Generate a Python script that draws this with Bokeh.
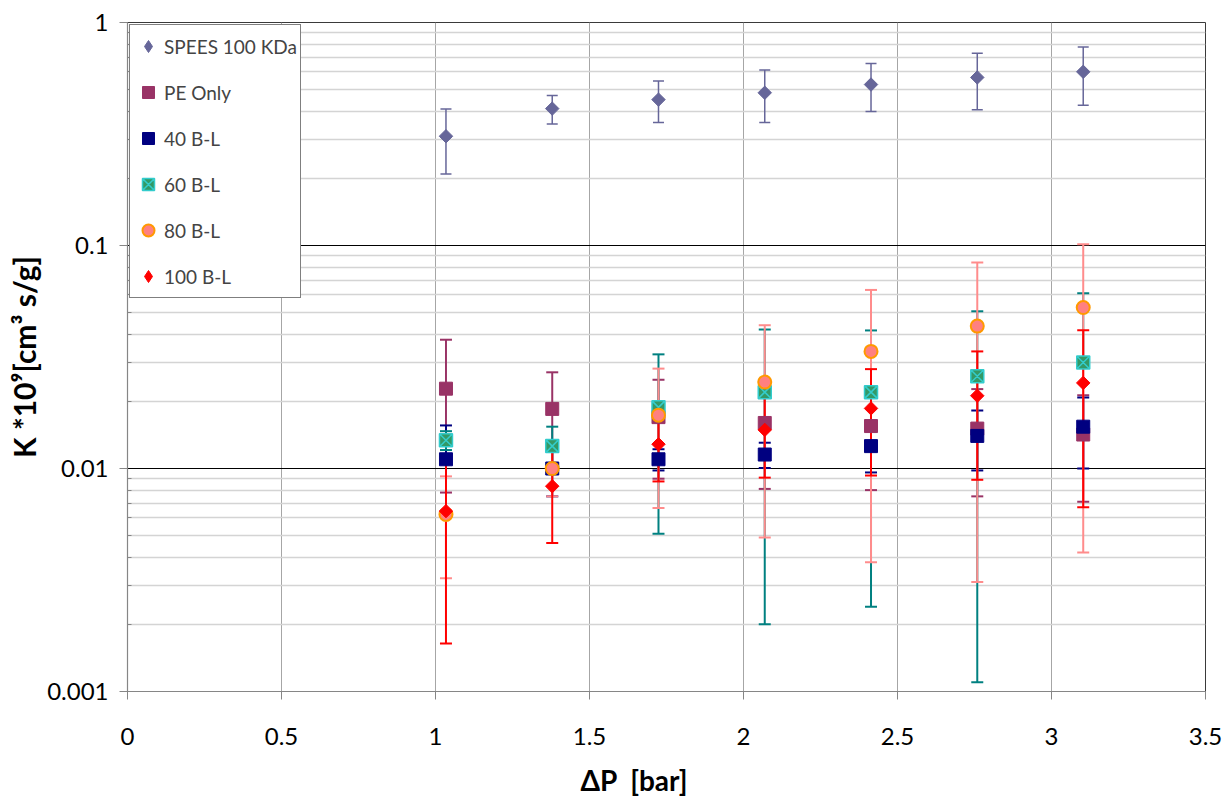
import numpy as np
from bokeh.plotting import figure
from bokeh.models import (ColumnDataSource, Whisker, TeeHead, FixedTicker, Range1d,
                          CustomJSTickFormatter, Legend, LegendItem, Title)
from bokeh.embed import file_html
from bokeh.resources import INLINE

# ---------------- data ----------------
dp = [1.034, 1.379, 1.724, 2.069, 2.414, 2.759, 3.103]

series_names = ["SPEES 100 KDa", "PE Only", "40 B-L", "60 B-L", "80 B-L", "100 B-L"]

spees_k = [0.309, 0.411, 0.451, 0.484, 0.527, 0.567, 0.601]
spees_err = [0.100, 0.060, 0.095, 0.128, 0.128, 0.161, 0.175]

pe_k = [0.0228, 0.0185, 0.0170, 0.0160, 0.0155, 0.0151, 0.0142]
pe_err = [0.0150, 0.0085, 0.0080, 0.0079, 0.0075, 0.0076, 0.0071]

bl40_k = [0.0110, 0.0100, 0.0110, 0.01155, 0.0126, 0.0140, 0.0154]
bl40_err = [0.0046, 0.0025, 0.0012, 0.0015, 0.0030, 0.0042, 0.0054]

bl60_k = [0.0134, 0.0126, 0.0188, 0.0220, 0.0220, 0.0259, 0.0299]
bl60_err = [0.0013, 0.0028, 0.0137, 0.0200, 0.0196, 0.0248, 0.0311]

bl80_k = [0.00622, 0.0100, 0.01735, 0.0244, 0.0335, 0.0435, 0.0527]
bl80_err = [0.0030, 0.0025, 0.0107, 0.0195, 0.0297, 0.0404, 0.0485]

bl100_k = [0.00644, 0.00833, 0.01285, 0.0149, 0.0186, 0.0212, 0.0242]
bl100_err = [0.0048, 0.0037, 0.0041, 0.0058, 0.0093, 0.0123, 0.0175]

x_ticks = [0, 0.5, 1, 1.5, 2, 2.5, 3, 3.5]
y_ticks = [0.001, 0.01, 0.1, 1]
y_minor = [k * 10.0 ** d for d in (-3, -2, -1) for k in range(2, 10)]

x_title = "\u0394P\u00a0\u00a0[bar]"
y_title = "K *10\u2079[cm\u00b3 s/g]"

# ---------------- styles ----------------
FONT = "Lato"
ROT = np.pi / 4
styles = [
    dict(marker="square", size=9.5, fill="#666699", line="#666699", lw=1, angle=ROT,
         legend_marker="diamond", ecolor="#666699", ew=1.5, cap=11),
    dict(marker="square", size=13, fill="#993366", line="#993366", lw=1, angle=0.0,
         legend_marker=None, ecolor="#993366", ew=2, cap=12),
    dict(marker="square", size=13, fill="#000080", line="#000080", lw=1, angle=0.0,
         legend_marker=None, ecolor="#000080", ew=2, cap=12),
    dict(marker="square_x", size=13, fill="#339966", line="#33CCCC", lw=1.5, angle=0.0,
         legend_marker=None, ecolor="#008080", ew=2, cap=12),
    dict(marker="circle", size=13, fill="#FF8080", line="#FF9900", lw=2, angle=0.0,
         legend_marker=None, ecolor="#FF8C8C", ew=2, cap=12),
    dict(marker="square", size=9.5, fill="#FF0000", line="#FF0000", lw=1, angle=ROT,
         legend_marker="diamond", ecolor="#FF0000", ew=2, cap=12),
]
values = [spees_k, pe_k, bl40_k, bl60_k, bl80_k, bl100_k]
errors = [spees_err, pe_err, bl40_err, bl60_err, bl80_err, bl100_err]

p = figure(width=1229, height=809, output_backend="svg", toolbar_location=None,
           y_axis_type="log", x_range=Range1d(0, 3.5), y_range=Range1d(0.001, 1),
           min_border_left=127, min_border_right=24, min_border_top=22, min_border_bottom=118)
p.background_fill_color = "white"
p.border_fill_color = "white"
p.outline_line_color = "#3a3a3a"
p.outline_line_width = 1

# axes
p.xaxis.ticker = FixedTicker(ticks=x_ticks)
p.yaxis.ticker = FixedTicker(ticks=y_ticks, minor_ticks=y_minor)
p.xaxis.formatter = CustomJSTickFormatter(code="return tick.toString()")
p.yaxis.formatter = CustomJSTickFormatter(code="return tick.toString()")
for ax in (p.xaxis[0], p.yaxis[0]):
    ax.axis_line_color = "#868686"
    ax.axis_line_width = 1.2
    ax.major_tick_line_color = "#868686"
    ax.minor_tick_line_color = "#868686"
    ax.major_tick_out = 8
    ax.major_tick_in = 0
    ax.major_label_text_font = FONT
    ax.major_label_text_font_size = "24px"
    ax.major_label_text_color = "black"
p.xaxis.minor_tick_line_color = None
p.xaxis.major_label_standoff = 28
p.yaxis.major_label_standoff = 11
p.yaxis.minor_tick_in = 4
p.yaxis.minor_tick_out = 0
p.yaxis.axis_label = y_title
p.yaxis.axis_label_text_font = FONT
p.yaxis.axis_label_text_font_style = "bold"
p.yaxis.axis_label_text_font_size = "30px"
p.yaxis.axis_label_text_color = "black"
p.yaxis.axis_label_standoff = 2

# x axis title as a left-aligned title below the axis (offset from the frame's left edge)
p.add_layout(Title(text=x_title, align="left", offset=453, standoff=26,
                   text_font=FONT, text_font_size="28px", text_font_style="bold",
                   text_color="black"), "below")

# grids
p.xgrid.ticker = FixedTicker(ticks=x_ticks)
p.xgrid.grid_line_color = "#A6A6A6"
p.xgrid.grid_line_width = 1
p.ygrid.ticker = FixedTicker(ticks=y_ticks, minor_ticks=y_minor)
p.ygrid.grid_line_color = "black"
p.ygrid.grid_line_width = 1
p.ygrid.minor_grid_line_color = "#D4D4D4"
p.ygrid.minor_grid_line_width = 1.5

# error bars (all first, in series order)
for vals, errs, st in zip(values, errors, styles):
    v = np.array(vals)
    e = np.array(errs)
    up = ColumnDataSource(dict(x=dp, lo=v, hi=v + e))
    p.add_layout(Whisker(source=up, base="x", lower="lo", upper="hi", dimension="height",
                         line_color=st["ecolor"], line_width=st["ew"], lower_head=None,
                         upper_head=TeeHead(size=st["cap"], line_color=st["ecolor"],
                                            line_width=st["ew"])))
    keep = (v - e) > 0
    dn = ColumnDataSource(dict(x=np.array(dp)[keep], lo=(v - e)[keep], hi=v[keep]))
    p.add_layout(Whisker(source=dn, base="x", lower="lo", upper="hi", dimension="height",
                         line_color=st["ecolor"], line_width=st["ew"], upper_head=None,
                         lower_head=TeeHead(size=st["cap"], line_color=st["ecolor"],
                                            line_width=st["ew"])))

# markers
items = []
for name, vals, st in zip(series_names, values, styles):
    src = ColumnDataSource(dict(x=dp, y=vals))
    legend_r = None
    if st["legend_marker"] is not None:
        # upright diamond used for the legend swatch; it sits fully inside the
        # rotated-square marker drawn on top of it, so it is hidden in the plot
        legend_r = p.scatter("x", "y", source=src, marker=st["legend_marker"], size=9,
                             fill_color=st["fill"], line_color=st["line"], line_width=1)
    r = p.scatter("x", "y", source=src, marker=st["marker"], size=st["size"],
                  fill_color=st["fill"], line_color=st["line"], line_width=st["lw"],
                  angle=st["angle"])
    items.append(LegendItem(label=name, renderers=[legend_r if legend_r is not None else r]))

legend = Legend(items=items, location="top_left", margin=2, padding=3,
                glyph_width=30, glyph_height=36, label_height=36, spacing=10,
                label_standoff=1, label_text_font=FONT, label_text_font_size="19px",
                border_line_color="black", border_line_width=1,
                background_fill_color="white", background_fill_alpha=1.0)
p.add_layout(legend)

open("out.html", "w").write(file_html(p, INLINE))
